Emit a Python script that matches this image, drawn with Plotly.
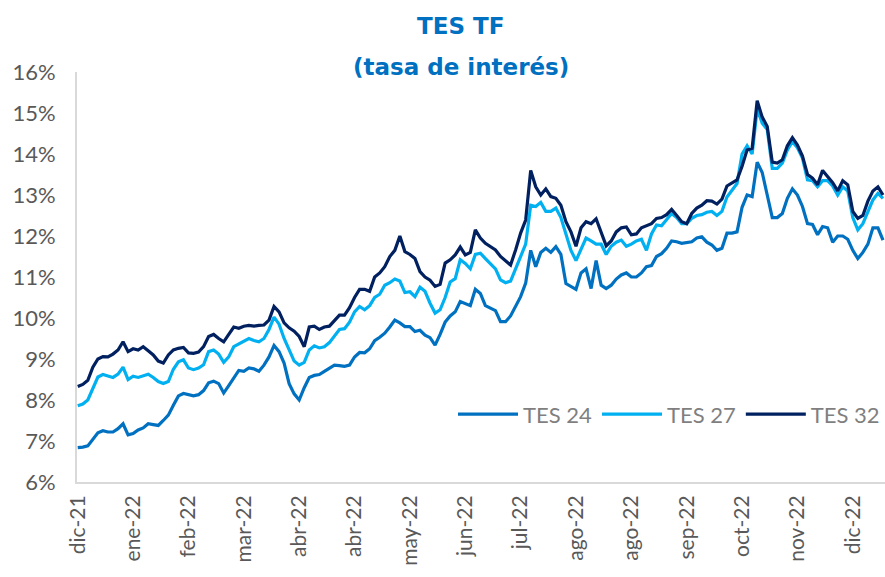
import plotly.graph_objects as go

tick_labels = ["dic-21", "ene-22", "feb-22", "mar-22", "abr-22", "abr-22", "may-22", "jun-22",
               "jul-22", "ago-22", "ago-22", "sep-22", "oct-22", "nov-22", "dic-22"]

tes32 = [8.33, 8.38, 8.48, 8.80, 9.00, 9.06, 9.05, 9.12, 9.22, 9.42, 9.18,
         9.25, 9.22, 9.30, 9.20, 9.10, 8.95, 8.90, 9.10, 9.22, 9.26, 9.28,
         9.15, 9.14, 9.17, 9.30, 9.55, 9.60, 9.50, 9.42, 9.60, 9.78, 9.75,
         9.80, 9.82, 9.80, 9.82, 9.83, 9.95, 10.28, 10.15, 9.88, 9.76, 9.68,
         9.55, 9.30, 9.78, 9.80, 9.72, 9.78, 9.80, 9.95, 10.07, 10.07, 10.25,
         10.50, 10.70, 10.70, 10.65, 11.00, 11.10, 11.25, 11.50, 11.65, 12.00, 11.62,
         11.55, 11.45, 11.13, 11.00, 10.92, 10.77, 10.82, 11.34, 11.42, 11.54, 11.73,
         11.54, 11.60, 12.15, 11.95, 11.82, 11.75, 11.66, 11.50, 11.40, 11.29, 11.66,
         12.07, 12.39, 13.60, 13.20, 13.00, 13.15, 12.96, 12.92, 12.75, 12.35, 12.10,
         11.75, 12.20, 12.35, 12.30, 12.42, 12.10, 11.76, 11.88, 12.10, 12.20, 12.22,
         12.03, 12.05, 12.20, 12.25, 12.30, 12.43, 12.45, 12.52, 12.65, 12.50, 12.35,
         12.30, 12.55, 12.68, 12.75, 12.86, 12.85, 12.78, 12.90, 13.22, 13.30, 13.37,
         13.70, 14.10, 14.14, 15.30, 14.90, 14.67, 13.80, 13.78, 13.86, 14.20, 14.40,
         14.22, 13.95, 13.50, 13.41, 13.25, 13.60, 13.45, 13.30, 13.10, 13.35, 13.25,
         12.60, 12.43, 12.50, 12.85, 13.10, 13.20, 13.00]

tes27 = [7.86, 7.90, 8.00, 8.30, 8.56, 8.62, 8.58, 8.55, 8.63, 8.80, 8.50,
         8.58, 8.55, 8.60, 8.63, 8.55, 8.45, 8.40, 8.45, 8.75, 8.93, 8.98,
         8.78, 8.74, 8.78, 8.86, 9.18, 9.22, 9.12, 8.92, 9.05, 9.30, 9.36,
         9.42, 9.50, 9.45, 9.42, 9.50, 9.72, 10.02, 9.85, 9.50, 9.20, 8.95,
         8.85, 8.92, 9.22, 9.32, 9.27, 9.30, 9.40, 9.55, 9.72, 9.74, 9.90,
         10.15, 10.28, 10.20, 10.30, 10.50, 10.58, 10.80, 10.86, 10.95, 10.90, 10.62,
         10.64, 10.52, 10.75, 10.65, 10.36, 10.12, 10.20, 10.50, 10.88, 10.96, 11.42,
         11.33, 11.20, 11.55, 11.58, 11.45, 11.33, 11.20, 10.93, 10.86, 10.90, 11.20,
         11.50, 11.80, 12.75, 12.72, 12.82, 12.60, 12.60, 12.68, 12.45, 12.05, 11.65,
         11.40, 11.70, 11.95, 11.88, 11.80, 11.80, 11.55, 11.75, 11.85, 11.90, 11.75,
         11.80, 11.88, 11.92, 11.65, 12.05, 12.27, 12.25, 12.40, 12.55, 12.45, 12.30,
         12.30, 12.43, 12.50, 12.52, 12.58, 12.60, 12.50, 12.60, 12.95, 13.10, 13.28,
         14.00, 14.20, 14.00, 15.10, 14.75, 14.60, 13.65, 13.65, 13.78, 14.10, 14.30,
         14.15, 13.90, 13.37, 13.35, 13.20, 13.35, 13.35, 13.22, 13.00, 13.20, 13.10,
         12.45, 12.15, 12.30, 12.58, 12.88, 13.04, 12.92]

tes24 = [6.84, 6.85, 6.88, 7.05, 7.20, 7.25, 7.22, 7.22, 7.30, 7.42, 7.15,
         7.18, 7.27, 7.32, 7.42, 7.40, 7.38, 7.50, 7.63, 7.87, 8.10, 8.16,
         8.13, 8.10, 8.13, 8.23, 8.42, 8.46, 8.40, 8.17, 8.35, 8.55, 8.72,
         8.70, 8.78, 8.76, 8.70, 8.85, 9.05, 9.33, 9.18, 8.90, 8.40, 8.15,
         8.00, 8.30, 8.55, 8.60, 8.62, 8.70, 8.78, 8.85, 8.84, 8.82, 8.85,
         9.05, 9.16, 9.15, 9.25, 9.45, 9.53, 9.63, 9.78, 9.95, 9.88, 9.79,
         9.79, 9.67, 9.70, 9.58, 9.52, 9.34, 9.60, 9.90, 10.05, 10.15, 10.40,
         10.36, 10.30, 10.70, 10.60, 10.30, 10.23, 10.18, 9.91, 9.91, 10.05, 10.30,
         10.52, 10.85, 11.65, 11.25, 11.60, 11.70, 11.60, 11.74, 11.55, 10.84, 10.78,
         10.70, 11.10, 11.20, 10.72, 11.40, 10.80, 10.72, 10.80, 10.95, 11.05, 11.10,
         11.00, 11.00, 11.10, 11.25, 11.28, 11.50, 11.57, 11.70, 11.88, 11.86, 11.82,
         11.85, 11.86, 11.95, 11.98, 11.85, 11.78, 11.65, 11.70, 12.07, 12.07, 12.10,
         12.70, 13.00, 12.96, 13.80, 13.55, 13.00, 12.45, 12.45, 12.55, 12.92, 13.15,
         13.00, 12.72, 12.30, 12.28, 12.03, 12.23, 12.20, 11.85, 12.00, 12.00, 11.92,
         11.65, 11.45, 11.60, 11.80, 12.20, 12.20, 11.90]

n = len(tes24)
x = list(range(n))
step = 11
tickvals = [i * step for i in range(len(tick_labels))]

fig = go.Figure()
for name, vals, color in [("TES 24", tes24, "#0070C0"),
                          ("TES 27", tes27, "#00B0F0"),
                          ("TES 32", tes32, "#002060")]:
    fig.add_trace(go.Scatter(x=x, y=vals, mode="lines", name=name,
                             line=dict(color=color, width=3.2)))

font_family = "Lato, 'Open Sans', sans-serif"
title_family = "'DejaVu Sans', sans-serif"

fig.update_layout(
    width=885, height=577,
    margin=dict(l=77, r=0, t=72, b=95, autoexpand=False),
    paper_bgcolor="white", plot_bgcolor="white",
    font=dict(family=font_family, color="#595959"),
    showlegend=True,
    legend=dict(orientation="h", x=1.0, xanchor="right", y=0.165, yanchor="middle",
                font=dict(size=22, color="#7F7F7F"), bgcolor="rgba(0,0,0,0)",
                itemwidth=60, tracegroupgap=0),
    xaxis=dict(range=[-0.15, n - 0.6], tickmode="array", tickvals=tickvals,
               ticktext=tick_labels, tickangle=-90, showgrid=False, zeroline=False,
               showline=True, linecolor="#D9D9D9", linewidth=2, ticks="",
               ticklabelstandoff=3,
               tickfont=dict(size=21, color="#595959")),
    yaxis=dict(range=[6, 16], dtick=1, ticksuffix="%", showgrid=False, zeroline=False,
               showline=True, linecolor="#D9D9D9", linewidth=2, ticks="",
               ticklabelstandoff=15,
               tickfont=dict(size=22, color="#595959")),
    annotations=[
        dict(text="<b>TES TF</b>", xref="paper", yref="paper", x=0.475, y=1.0 + (72 - 26) / 410,
             xanchor="center", yanchor="middle", showarrow=False,
             font=dict(size=23, color="#0070C0", family=title_family)),
        dict(text="<b>(tasa de interés)</b>", xref="paper", yref="paper", x=0.475,
             y=1.0 + (72 - 67) / 410, xanchor="center", yanchor="middle", showarrow=False,
             font=dict(size=23, color="#0070C0", family=title_family)),
    ],
)

fig.write_html("out.html", config={"displayModeBar": False},
               post_script="document.body.style.margin='0px';")
